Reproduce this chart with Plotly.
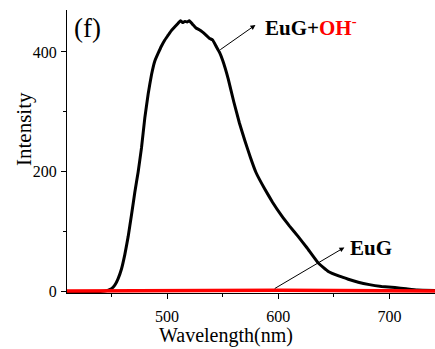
import plotly.graph_objects as go

# Data
wl_oh = [410, 440, 446, 450, 453, 456, 459, 462, 465, 468, 471, 474, 477, 480, 483, 486, 489, 492, 495,
         498, 501, 504, 507, 510, 512, 514, 516, 518, 520, 523, 526, 529, 532, 535, 538, 541, 544,
         547, 550, 555, 560, 565, 570, 575, 580, 588, 595, 603, 610, 618, 626, 636, 645, 655, 663,
         672, 682, 693, 705, 715, 725, 741]
int_oh = [0, 0.5, 2, 5, 11, 22, 38, 62, 92, 128, 166, 200, 240, 290, 330, 362, 385, 398, 410,
          420, 428, 436, 442, 448, 452, 449, 451, 450, 452, 446, 440, 437, 433, 428, 423, 420, 410,
          400, 386, 355, 317, 282, 252, 224, 199, 171, 149, 127, 110, 92, 73, 48, 34, 26, 21,
          16, 12, 9, 7, 5, 3, 2]

wl_eug = [410, 450, 500, 550, 600, 650, 700, 741]
int_eug = [1.5, 2, 2.5, 2, 2.5, 2, 1.5, 1.5]

x_ticks = [500, 600, 700]
y_ticks = [0, 200, 400]

FONT = "Liberation Serif"

fig = go.Figure()
fig.add_trace(go.Scatter(x=wl_oh, y=int_oh, mode="lines",
                         line=dict(color="black", width=3, shape="spline", smoothing=0.3),
                         showlegend=False))
fig.add_trace(go.Scatter(x=wl_eug, y=int_eug, mode="lines", line=dict(color="#ff0000", width=3.5),
                         showlegend=False))

fig.update_layout(
    width=435, height=349,
    margin=dict(l=67, r=0, t=10, b=56),
    plot_bgcolor="white", paper_bgcolor="white",
    font=dict(family=FONT, color="black", size=16),
    xaxis=dict(range=[410, 741], tickvals=x_ticks, ticks="outside", ticklen=5, tickwidth=1,
               tickcolor="black", showline=True, linecolor="black", linewidth=1, showgrid=False,
               zeroline=False, tickfont=dict(size=16, family=FONT), ticklabelstandoff=4,
               minor=dict(tickvals=[450, 550, 650], ticks="outside", ticklen=3, tickcolor="black")),
    yaxis=dict(range=[-2, 470], tickvals=y_ticks, ticks="outside", ticklen=5, tickwidth=1,
               tickcolor="black", showline=True, linecolor="black", linewidth=1, showgrid=False,
               zeroline=False, tickfont=dict(size=16, family=FONT), ticklabelstandoff=1,
               minor=dict(tickvals=[100, 300], ticks="outside", ticklen=3, tickcolor="black")),
)

# axis titles
fig.add_annotation(text="Wavelength(nm)", xref="paper", yref="paper", x=(226 - 67) / 368, y=-(335 - 293) / 283,
                   showarrow=False, font=dict(size=20, family=FONT), xanchor="center", yanchor="middle")
fig.add_annotation(text="Intensity", xref="paper", yref="paper", x=-(67 - 24) / 368, y=(293 - 129) / 283,
                   showarrow=False, font=dict(size=21, family=FONT), textangle=-90,
                   xanchor="center", yanchor="middle")

# panel label
fig.add_annotation(text="(f)", xref="paper", yref="paper", x=(72 - 67) / 368, y=(293 - 28) / 283,
                   showarrow=False, font=dict(size=27, family=FONT), xanchor="left", yanchor="middle")

# labels
fig.add_annotation(text="<b>EuG+<span style='color:#ff0000'>OH<sup>-</sup></span></b>", x=586, y=443,
                   showarrow=False, font=dict(size=21, family=FONT), xanchor="left", yanchor="middle")
fig.add_annotation(text="<b>EuG</b>", x=663, y=73, showarrow=False,
                   font=dict(size=21, family=FONT), xanchor="left", yanchor="middle")

# arrows
fig.add_annotation(x=579.5, y=445, ax=546.5, ay=402, xref="x", yref="y", axref="x", ayref="y",
                   text="", showarrow=True, arrowhead=2, arrowsize=1, arrowwidth=1, arrowcolor="black")
fig.add_annotation(x=659.5, y=74, ax=595.5, ay=4, xref="x", yref="y", axref="x", ayref="y",
                   text="", showarrow=True, arrowhead=2, arrowsize=1, arrowwidth=1, arrowcolor="black")

fig.write_html("out.html")
